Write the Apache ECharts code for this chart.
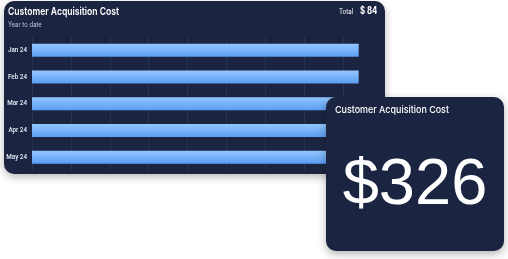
<!DOCTYPE html>
<html><head><meta charset="utf-8">
<script src="https://cdn.jsdelivr.net/npm/echarts@6/dist/echarts.min.js"></script>
<style>html,body{margin:0;padding:0;background:#fff;}#c{width:508px;height:259px;}</style>
</head><body><div id="c"></div>
<script>
const categories = ['Jan 24', 'Feb 24', 'Mar 24', 'Apr 24', 'May 24'];
const values = [84, 84, 84, 84, 84];
const totalLabel = '$ 84';
const bigValue = '$326';
const titleText = 'Customer Acquisition Cost';
const subtitleText = 'Year to date';

const navy = '#1b2541';
function txt(text, x, y, font, fill, sx, z, extra) {
  return Object.assign({type: 'text', z: z, x: x, y: y, scaleX: sx,
    style: Object.assign({text: text, fill: fill, font: font, textVerticalAlign: 'top'}, extra || {})});
}
const chart = echarts.init(document.getElementById('c'), null, {renderer: 'canvas'});
chart.setOption({
  backgroundColor: '#ffffff',
  animation: false,
  grid: {left: 32, top: 37, width: 350, height: 133.5, containLabel: false},
  xAxis: {
    type: 'value', min: 0, max: 90, interval: 10,
    axisLabel: {show: false}, axisLine: {show: false}, axisTick: {show: false},
    splitLine: {show: true, showMaxLine: false, lineStyle: {color: '#283350', width: 1}}
  },
  yAxis: {
    type: 'category', data: categories, inverse: true,
    axisLine: {show: false}, axisTick: {show: false},
    axisLabel: {color: '#e8eef8', fontSize: 6.3, fontFamily: 'Roboto', fontWeight: 500, margin: 5}
  },
  series: [{
    type: 'bar', data: values, barWidth: 13, z: 2,
    itemStyle: {
      color: new echarts.graphic.LinearGradient(0, 0, 0, 1, [
        {offset: 0, color: '#93c6ff'},
        {offset: 1, color: '#5c9df2'}
      ])
    }
  }],
  graphic: [
    {type: 'rect', z: -5, shape: {x: 4, y: 1, width: 381, height: 173, r: 10},
     style: {fill: navy, shadowBlur: 8, shadowOffsetY: 3, shadowColor: 'rgba(0,0,0,0.28)'}},
    txt(titleText, 8, 6.5, '600 11px Inter', '#ffffff', 0.78, 5),
    txt(subtitleText, 8, 21, '400 7px Inter', '#b9c8e2', 0.85, 5),
    txt('Total', 339, 8, '400 7px Inter', '#ffffff', 0.88, 5),
    txt(totalLabel, 360, 5.5, '700 10px Inter', '#ffffff', 0.78, 5),
    {type: 'rect', z: 50, shape: {x: 326, y: 97, width: 178, height: 154, r: 10},
     style: {fill: navy, shadowBlur: 8, shadowOffsetY: 3, shadowColor: 'rgba(0,0,0,0.3)'}},
    txt(titleText, 335, 105.5, '500 9.5px Inter', '#ffffff', 0.94, 51),
    {type: 'text', z: 51, x: 415, y: 186, style: {text: bigValue, fill: '#ffffff', font: '400 65px "Liberation Sans"', textAlign: 'center', textVerticalAlign: 'middle'}}
  ]
});
</script></body></html>
